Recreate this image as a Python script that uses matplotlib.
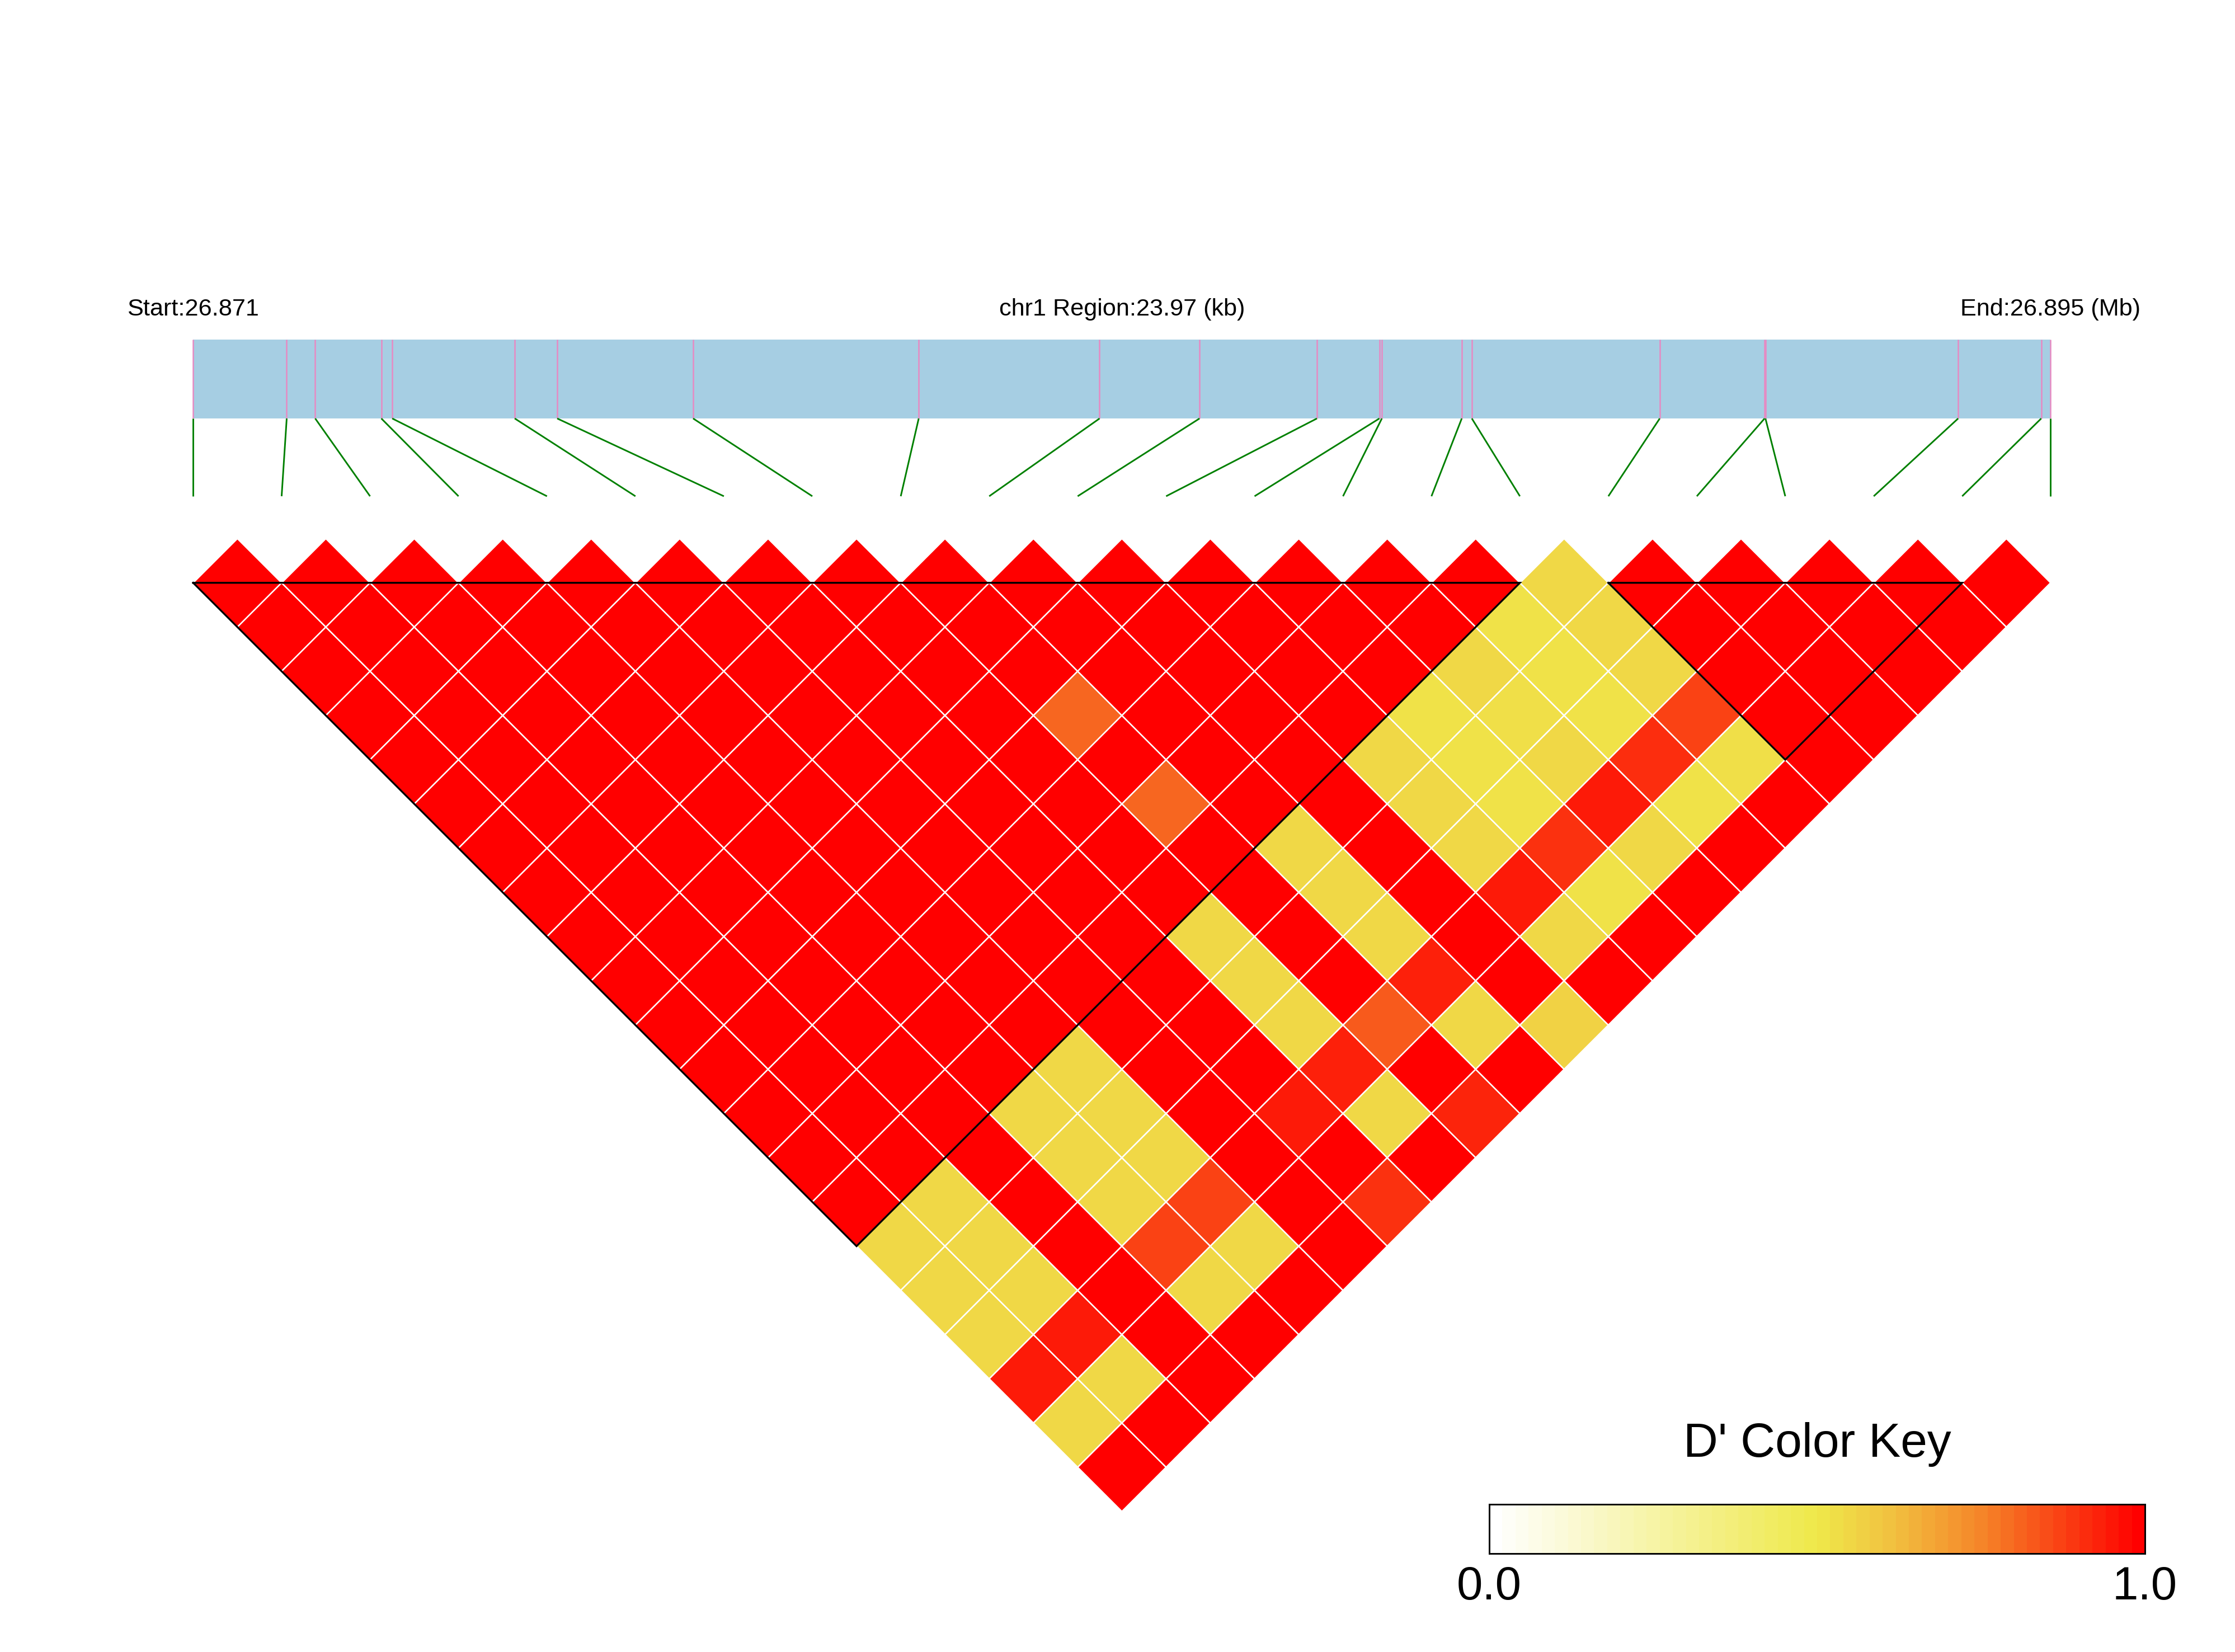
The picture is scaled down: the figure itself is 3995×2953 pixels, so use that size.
import matplotlib
matplotlib.use("Agg")
import matplotlib.pyplot as plt
import numpy as np
from matplotlib.collections import PolyCollection
from matplotlib.patches import Rectangle
from matplotlib.colors import LinearSegmentedColormap, Normalize

plt.rcParams['font.family'] = ['Liberation Sans', 'DejaVu Sans']

# ---------------- data ----------------
chrom = "chr1"
region_start = 26870962
region_end = 26894932

snp_positions = [26870962, 26872169, 26872537, 26873390, 26873531, 26875112,
                 26875660, 26877414, 26880325, 26882659, 26883949, 26885464,
                 26886270, 26886302, 26887333, 26887463, 26889888, 26891241,
                 26891252, 26893739, 26894811, 26894932]

# D' values, row i holds pairs (i, j) for j = i+1 .. 21
dprime_rows = [
    [1.0] * 15 + [0.55, 0.55, 0.55, 0.95, 0.55, 1.0],            # 0
    [1.0] * 14 + [0.55, 0.55, 0.55, 0.95, 0.55, 1.0],            # 1
    [1.0] * 19,                                                   # 2
    [1.0] * 12 + [0.55, 0.55, 0.55, 0.875, 0.55, 1.0],           # 3
    [1.0] * 11 + [0.55, 0.55, 0.55, 0.875, 0.55, 1.0],           # 4
    [1.0] * 16,                                                   # 5
    [1.0] * 9 + [1.0, 1.0, 1.0, 0.95, 1.0, 0.91],                # 6
    [1.0] * 8 + [0.55, 0.55, 0.55, 0.94, 0.55, 1.0],             # 7
    [1.0, 1.0, 1.0, 0.81, 1.0, 0.81, 1.0] + [1.0, 1.0, 1.0, 0.835, 1.0, 0.93],  # 8
    [1.0] * 6 + [0.55, 0.55, 0.55, 0.94, 0.55, 1.0],             # 9
    [1.0] * 5 + [1.0, 1.0, 1.0, 1.0, 1.0, 0.57],                 # 10
    [1.0] * 4 + [0.55, 0.55, 0.55, 0.95, 0.55, 1.0],             # 11
    [1.0] * 3 + [0.52, 0.52, 0.52, 0.91, 0.52, 1.0],             # 12
    [1.0] * 2 + [0.55, 0.53, 0.55, 0.95, 0.55, 1.0],             # 13
    [1.0] + [0.52, 0.52, 0.52, 0.915, 0.52, 1.0],                # 14
    [0.55, 0.55, 0.55, 0.875, 0.53, 1.0],                        # 15
    [1.0] * 5,                                                    # 16
    [1.0] * 4,                                                    # 17
    [1.0] * 3,                                                    # 18
    [1.0] * 2,                                                    # 19
    [1.0],                                                        # 20
]

blocks = [(0, 15), (16, 20)]

key_title = "D' Color Key"
key_labels = ["0.0", "1.0"]

# ---------------- styling ----------------
cmap = LinearSegmentedColormap.from_list(
    "ld", [(0.0, "#FFFFFF"), (0.5, "#EFE94A"), (0.62, "#F2C040"),
           (0.75, "#F5882A"), (1.0, "#FF0000")], N=256)
cmap_bar = cmap.resampled(50)
norm = Normalize(0, 1)

W, H, DPI = 3995, 2953, 300
fig = plt.figure(figsize=(W / DPI, H / DPI), dpi=DPI)
ax = fig.add_axes([0, 0, 1, 1])
ax.set_axis_off()
# grid unit = 158.1 px; SNP grid index 0 at x=345.3 px, diamond tops at y=962.75 px
unit = 158.1
x0_px, y0_px = 345.3, 962.75
ax.set_xlim(-x0_px / unit, (W - x0_px) / unit)
ax.set_ylim(-(H - y0_px) / unit, y0_px / unit)

n = len(snp_positions)
span = region_end - region_start

def pos_to_u(p):
    return (p - region_start) / span * (n - 1)

# ---------------- gene / SNP track ----------------
track_bot, track_top = 1.358, 2.250
link_bot = 0.479
ax.add_patch(Rectangle((0, track_bot), n - 1, track_top - track_bot,
                       facecolor="#A6CEE3", edgecolor="none", zorder=1))
us = [pos_to_u(p) for p in snp_positions]
ax.vlines(us, track_bot, track_top, colors="#E78AC3", linewidth=0.6, zorder=2)
for k, u in enumerate(us):
    ax.plot([u, k], [track_bot, link_bot], color="#008000", linewidth=0.7,
            solid_capstyle="butt", zorder=2)

label_y = 2.519
ax.text(0, label_y, "Start:%.3f" % (region_start / 1e6), ha="center",
        va="baseline", fontsize=10.4)
ax.text((n - 1) / 2, label_y, "%s Region:%.2f (kb)" % (chrom, span / 1000),
        ha="center", va="baseline", fontsize=10.4)
ax.text(n - 1, label_y, "End:%.3f (Mb)" % (region_end / 1e6), ha="center",
        va="baseline", fontsize=10.4)

# ---------------- LD heatmap ----------------
verts, vals = [], []
for i, row in enumerate(dprime_rows):
    for k, v in enumerate(row):
        j = i + 1 + k
        cx = (i + j) / 2.0
        cy = -(j - i) / 2.0
        verts.append([(cx - 0.5, cy), (cx, cy + 0.5), (cx + 0.5, cy), (cx, cy - 0.5)])
        vals.append(v)
pc = PolyCollection(verts, facecolors=cmap(norm(np.array(vals))),
                    edgecolors="white", linewidths=0.6, zorder=3)
ax.add_collection(pc)

for a, b in blocks:
    xs = [a, b, (a + b) / 2.0, a]
    ys = [-0.5, -0.5, -(b - a) / 2.0 - 0.5, -0.5]
    ax.plot(xs, ys, color="black", linewidth=0.8, zorder=4,
            solid_joinstyle="miter")

# ---------------- colour key ----------------
cax = fig.add_axes([2662 / W, 1 - 2777 / H, (3834 - 2662) / W, 88 / H])
grad = np.linspace(0, 1, 50)[np.newaxis, :]
cax.imshow(grad, aspect="auto", cmap=cmap_bar, norm=norm,
           extent=[0, 1, 0, 1], interpolation="nearest")
cax.set_xticks([])
cax.set_yticks([])
for s in cax.spines.values():
    s.set_linewidth(0.7)
    s.set_color("black")
cax.text(0.5, 1.966, key_title, transform=cax.transAxes, ha="center",
         va="baseline", fontsize=20.6)
cax.text(0.0, -0.9375, key_labels[0], transform=cax.transAxes, ha="center",
         va="baseline", fontsize=20)
cax.text(1.0, -0.9375, key_labels[1], transform=cax.transAxes, ha="center",
         va="baseline", fontsize=20)

fig.savefig("out.png", dpi=DPI, facecolor="white")
